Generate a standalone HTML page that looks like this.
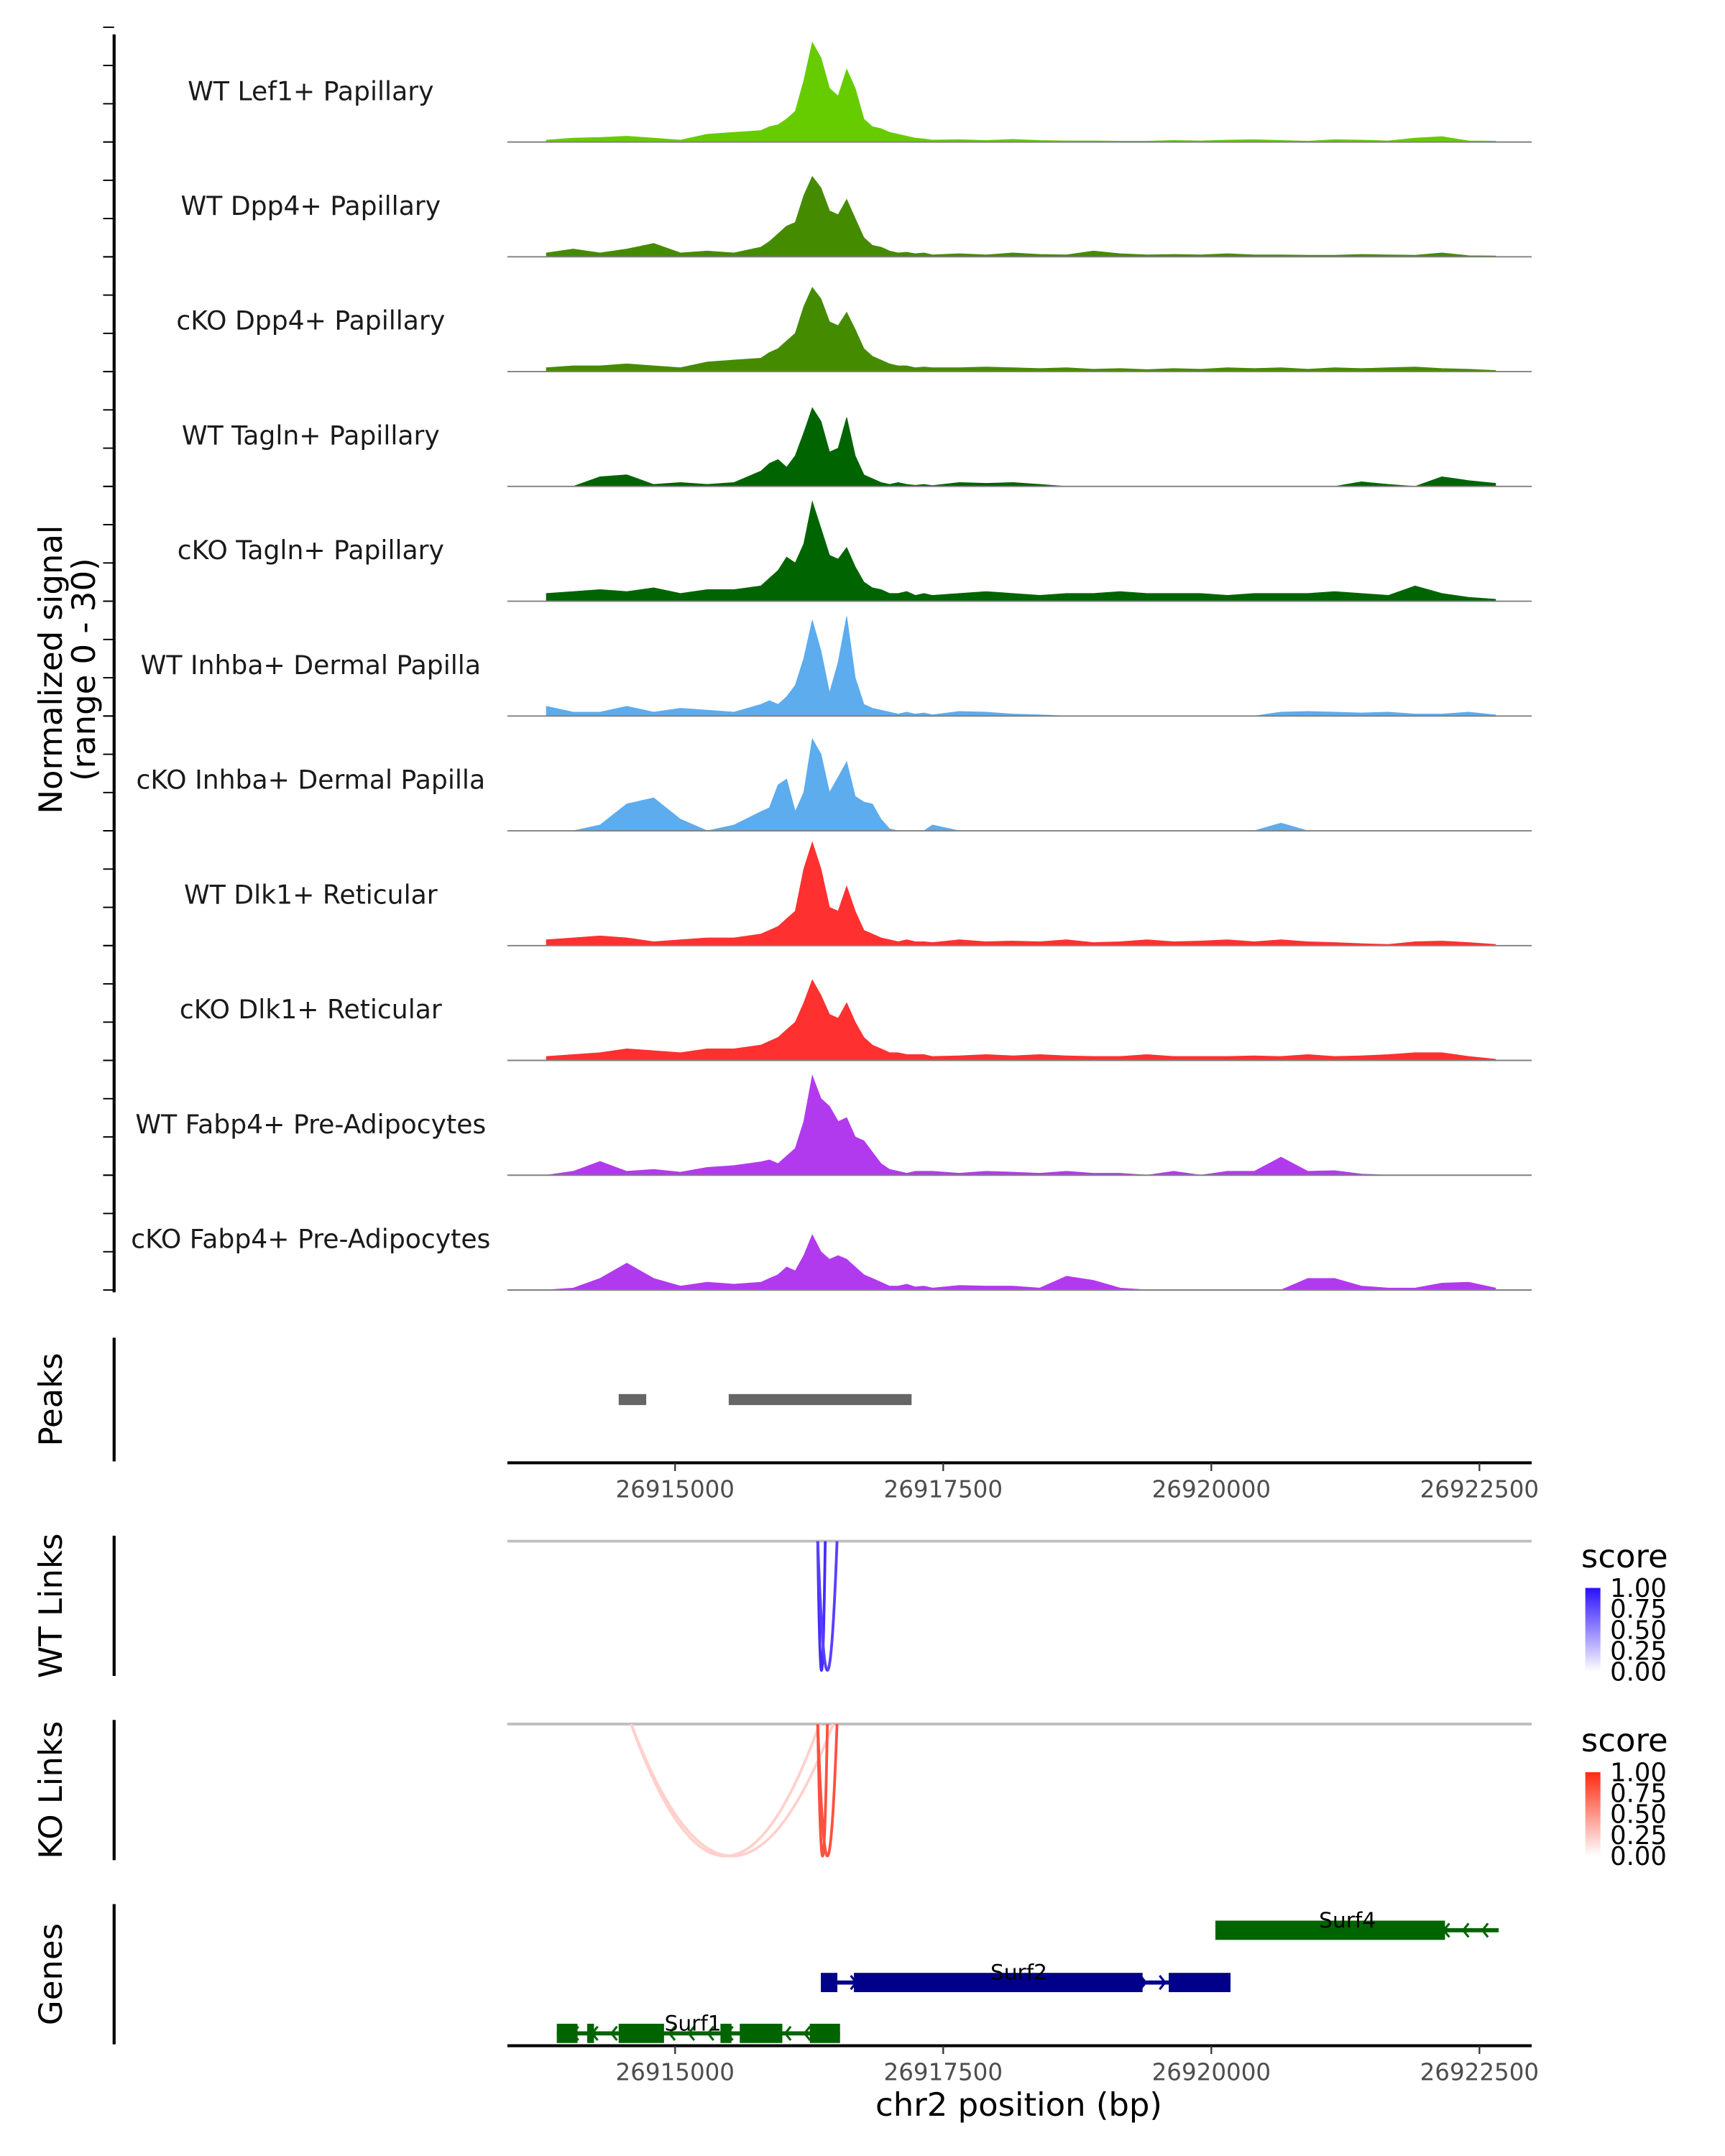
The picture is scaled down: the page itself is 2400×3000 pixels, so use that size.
<!DOCTYPE html>
<html><head><meta charset="utf-8"><style>
html,body{margin:0;padding:0;background:#fff}
svg{display:block}
text{font-family:"DejaVu Sans","Liberation Sans",sans-serif}
</style></head><body>
<svg id="fig" width="2400" height="3000" viewBox="0 0 1254.6 1568.2" preserveAspectRatio="none" xmlns="http://www.w3.org/2000/svg"></svg>
<script>
const positions=[26913800,26914050,26914300,26914550,26914800,26915050,26915300,26915550,26915800,
26915880,26915960,26916040,26916120,26916200,26916280,26916360,26916440,26916520,26916600,26916680,26916760,26916840,26916920,26917000,26917080,26917160,26917240,26917320,26917400,
26917650,26917900,26918150,26918400,26918650,26918900,26919150,26919400,26919650,26919900,26920150,26920400,26920650,26920900,26921150,26921400,26921650,26921900,26922150,26922400,26922650];
const trackNames=["WT Lef1+ Papillary","WT Dpp4+ Papillary","cKO Dpp4+ Papillary","WT Tagln+ Papillary","cKO Tagln+ Papillary","WT Inhba+ Dermal Papilla","cKO Inhba+ Dermal Papilla","WT Dlk1+ Reticular","cKO Dlk1+ Reticular","WT Fabp4+ Pre-Adipocytes","cKO Fabp4+ Pre-Adipocytes"];
const trackColors=["#66cc00","#458b00","#458b00","#006400","#006400","#5cacee","#5cacee","#ff3030","#ff3030","#b23aee","#b23aee"];
const wtLef1=[0.5,1,1.2,1.5,1,0.5,2,2.5,3,4,4.5,6,8,16,26,22,14,12,19,14,6,4,3.5,2.5,2,1.5,1,0.8,0.5,0.6,0.4,0.7,0.4,0.3,0.3,0.2,0.2,0.4,0.3,0.5,0.6,0.4,0.2,0.6,0.5,0.3,1,1.4,0.3,0.2];
const wtDpp4=[1,2,1,2,3.5,1,1.5,1,2.5,4,6,8,9,16,21,18,12,11,15,10,5,3,2.5,1.5,1,1.2,0.8,1,0.5,0.8,0.5,1,0.6,0.5,1.5,0.8,0.5,0.6,0.5,0.8,0.5,0.5,0.4,0.4,0.6,0.5,0.4,1,0.3,0.2];
const koDpp4=[1,1.5,1.5,2,1.5,1,2.5,3,3.5,5,6,8,10,17,22,19,13,12,15.5,11,6,4,3,2,1.5,1.5,1,1.2,1,1,1.2,1,0.8,1,0.6,0.8,0.5,0.8,0.6,1,0.8,1,0.6,1,0.8,1,1.2,0.8,0.6,0.3];
const wtTagln=[0,0,2.5,3,0.5,1,0.5,1,4,6,7,5,8,14,20.5,17,9,10,18,8,3,2,1,0.5,1,0.5,0.3,0.5,0.2,1,0.8,1,0.5,0,0,0,0,0,0,0,0,0,0,0,1.2,0.5,0,2.5,1.5,0.8];
const koTagln=[2,2.5,3,2.5,3.5,2,3,3,4,6,8,11.5,10,15,26,19,12,11,14,9,5,3.5,3,2,2,2.5,1.5,2,1.5,2,2.5,2,1.5,2,2,2.5,2,2,2,1.5,2,2,2,2.5,2,1.5,4,2,1,0.5];
const wtInhba=[2.5,1,1,2.5,1,2,1.5,1,3,4,3,5,8,15,25,17,6,14,26,10,3,2,1.5,1,0.5,1,0.5,0.8,0.3,1.2,1,0.5,0.3,0,0,0,0,0,0,0,0,1,1.2,1,0.8,1,0.5,0.5,1,0.3];
const koInhba=[0,0,1.5,7,8.6,3,0,1.5,5,6,12,13.5,5,10,24,20,10,14,18,9,7.5,7,3,0.5,0,0,0,0,1.5,0,0,0,0,0,0,0,0,0,0,0,0,2,0,0,0,0,0,0,0,0];
const wtDlk1=[1.5,2,2.5,2,1,1.5,2,2,3,4,5,7,9,20,27,20,10,9,15.5,9,4,3,2,1.5,1,1.5,1,1,0.8,1.5,1,1.2,1,1.5,0.8,1,1.5,1,1.2,1.5,1,1.5,1,0.8,0.5,0.3,1,1.2,0.8,0.3];
const koDlk1=[1,1.5,2,3,2.5,2,3,3,4,5,6,8,10,15,21,17,12,11,15,10,6,4,3,2,2,1.5,1.5,1.5,1,1.2,1.5,1.2,1.5,1.2,1,1,1.5,1,1,1,1.2,1,1.5,1,1.2,1.5,2,2,1,0.3];
const wtFabp4=[0,1,3.6,1,1.5,0.8,2,2.5,3.5,4,3,5,7,14,26,20,18,14,15,10,9,6,3,1.5,1,0.5,1,1,1,0.5,1,0.8,0.5,1,0.5,0.5,0,1,0,1,1,4.7,1,1.2,0.3,0,0,0,0,0];
const koFabp4=[0,0.5,3,7,3,1,2,1.5,2,3,4,6,5,9,14.4,10,8,9,8,6,4,3,2,1,1,1.5,0.8,1,0.5,1.2,1,1,0.5,3.6,2.5,0.5,0,0,0,0,0,0,3,3,1,0.5,0.5,1.8,2,0.5];
const trackValues=[wtLef1,wtDpp4,koDpp4,wtTagln,koTagln,wtInhba,koInhba,wtDlk1,koDlk1,wtFabp4,koFabp4];
const xTicks=[26915000,26917500,26920000,26922500];
const peakStarts=[26914474,26915500];
const peakEnds=[26914731,26917205];
const wtLinkStart=[26916330,26916330];
const wtLinkEnd=[26916400,26916510];
const wtLinkScore=[1,0.9];
const koLinkStart=[26914590,26914590,26916330,26916330];
const koLinkEnd=[26916346,26916474,26916420,26916510];
const koLinkScore=[0.2,0.2,0.9,0.9];
const legendTicks=[1.00,0.75,0.50,0.25,0.00];

const NS="http://www.w3.org/2000/svg";
const svg=document.getElementById('fig');
function mk(tag,attrs,parent){const e=document.createElementNS(NS,tag);for(const k in attrs)e.setAttribute(k,attrs[k]);(parent||svg).appendChild(e);return e;}
const X0=369,X1=1114;
function xs(b){return 491+(b-26915000)*0.078;}
const trackH=83.5, base0=103.3, ymax=30;
function ys(v,base){return base-v/ymax*trackH;}

let ax=mk('line',{x1:83,y1:25,x2:83,y2:940,stroke:'#000','stroke-width':2.2});


let yl=mk('text',{x:0,y:0,'font-size':23.5,'text-anchor':'middle',transform:'translate(45,487) rotate(-90)'});
yl.textContent='Normalized signal';


let yl2=mk('text',{x:0,y:0,'font-size':23.5,'text-anchor':'middle',transform:'translate(69,487) rotate(-90)'});
yl2.textContent='(range 0 - 30)';



trackNames.forEach((nm,i)=>{
  const base=base0+i*trackH;
  const g=mk('g',{});
  
  
  for(let k=0;k<4;k++){mk('line',{x1:75,x2:83,y1:base-k*trackH/3,y2:base-k*trackH/3,stroke:'#000','stroke-width':1},g);}
  const t=mk('text',{x:226,y:base-30.5,'font-size':18.9,'text-anchor':'middle',fill:'#1a1a1a'},g);
  t.textContent=nm;
  
  
  const vals=trackValues[i];
  let pts=xs(positions[0])+','+base+' ';
  positions.forEach((p,j)=>{pts+=xs(p).toFixed(1)+','+ys(vals[j],base).toFixed(1)+' ';});
  pts+=xs(positions[positions.length-1])+','+base;
  const a=mk('polygon',{points:pts,fill:trackColors[i],stroke:trackColors[i],'stroke-width':0.5},g);
  
  
  mk('line',{x1:X0,x2:X1,y1:base,y2:base,stroke:'#808080','stroke-width':1},g);
});

function panel(y1,y2,label,name){
  const l=mk('line',{x1:83,x2:83,y1:y1,y2:y2,stroke:'#000','stroke-width':2.2});
  
  
  const t=mk('text',{x:0,y:0,'font-size':23.5,'text-anchor':'middle',transform:'translate(45,'+((y1+y2)/2)+') rotate(-90)'});
  t.textContent=label;
  
  
}
panel(973,1063,'Peaks','peaks');
panel(1117,1219,'WT Links','wt-links');
panel(1251,1353,'KO Links','ko-links');
panel(1385,1487,'Genes','genes');

peakStarts.forEach((s,i)=>{
  const r=mk('rect',{x:xs(s),y:1014,width:xs(peakEnds[i])-xs(s),height:8,fill:'#666'});
  
  
});
function xaxis(y,name){
  const g=mk('g',{});
  
  
  mk('line',{x1:X0,x2:X1,y1:y,y2:y,stroke:'#000','stroke-width':2.2},g);
  xTicks.forEach(t=>{
    mk('line',{x1:xs(t),x2:xs(t),y1:y,y2:y+6,stroke:'#333','stroke-width':1.2},g);
    const tx=mk('text',{x:xs(t),y:y+25,'font-size':17,'text-anchor':'middle',fill:'#4d4d4d'},g);
    tx.textContent=t;
    
    
  });
}
xaxis(1064,'peaks-x-axis');
xaxis(1488,'genes-x-axis');
let xt=mk('text',{x:741,y:1539,'font-size':23.5,'text-anchor':'middle'});
xt.textContent='chr2 position (bp)';



function mix(c1,c2,t){return 'rgb('+c1.map((v,i)=>Math.round(c2[i]+(v-c2[i])*t)).join(',')+')';}
function links(top,bottom,st,en,sc,col,name){
  mk('line',{x1:X0,x2:X1,y1:top,y2:top,stroke:'#bebebe','stroke-width':2});
  st.forEach((s,i)=>{
    const a=xs(s),b=xs(en[i]),cy=top+2*(bottom-top);
    const p=mk('path',{d:`M${a},${top} Q${(a+b)/2},${cy} ${b},${top}`,fill:'none',stroke:mix(col,[255,255,255],sc[i]*0.85+0.05),'stroke-width':2});
    
    
  });
}
links(1121,1215,wtLinkStart,wtLinkEnd,wtLinkScore,[50,20,255],'wt-link-arc');
links(1254,1350,koLinkStart,koLinkEnd,koLinkScore,[255,40,20],'ko-link-arc');

const defs=mk('defs',{});
function legend(y0,col,id){
  const lg=mk('linearGradient',{id:id,x1:0,y1:0,x2:0,y2:1},defs);
  mk('stop',{offset:0,'stop-color':col},lg);mk('stop',{offset:1,'stop-color':'#fff'},lg);
  const g=mk('g',{});
  
  
  const t=mk('text',{x:1150,y:y0-15,'font-size':23.5},g);t.textContent='score';
  mk('rect',{x:1153,y:y0,width:11,height:61,fill:'url(#'+id+')'},g);
  legendTicks.forEach((v,i)=>{
    const ty=y0+61*(1-v);
    const tt=mk('text',{x:1171,y:ty+6.5,'font-size':18.5},g);tt.textContent=v.toFixed(2);
  });
}
legend(1155,'#2a10ff','gw');
legend(1289,'#ff2a10','gk');

const geneNames=["Surf4","Surf2","Surf1"];
const geneColors=["#006400","#00008b","#006400"];
const geneY=[1404,1442,1479];
const geneStart=[26920038,26916359,26913897];
const geneEnd=[26922679,26920179,26916538];
const geneStrand=[-1,1,-1];
const exonStarts=[[26920038],[26916359,26916667,26919603],[26913897,26914180,26914474,26915423,26915603,26916256]];
const exonEnds=[[26922179],[26916513,26919359,26920179],[26914090,26914244,26914897,26915526,26916000,26916538]];
const labelX=[980,741,504];
geneNames.forEach((gn,i)=>{
  const g=mk('g',{});
  
  
  const y=geneY[i],c=geneColors[i];
  mk('line',{x1:xs(geneStart[i]),x2:xs(geneEnd[i]),y1:y,y2:y,stroke:c,'stroke-width':3},g);
  for(let b=geneStart[i]+150;b<geneEnd[i];b+=180){
    const x=xs(b),d=geneStrand[i]*4;
    mk('polyline',{points:`${x-d},${y-5} ${x},${y} ${x-d},${y+5}`,fill:'none',stroke:c,'stroke-width':1.6},g);
  }
  exonStarts[i].forEach((s,j)=>{
    mk('rect',{x:xs(s),y:y-7,width:xs(exonEnds[i][j])-xs(s),height:14,fill:c},g);
  });
  const t=mk('text',{x:labelX[i],y:y-2,'font-size':15.5,'text-anchor':'middle'},g);
  t.textContent=gn;
});
</script>
</body></html>
